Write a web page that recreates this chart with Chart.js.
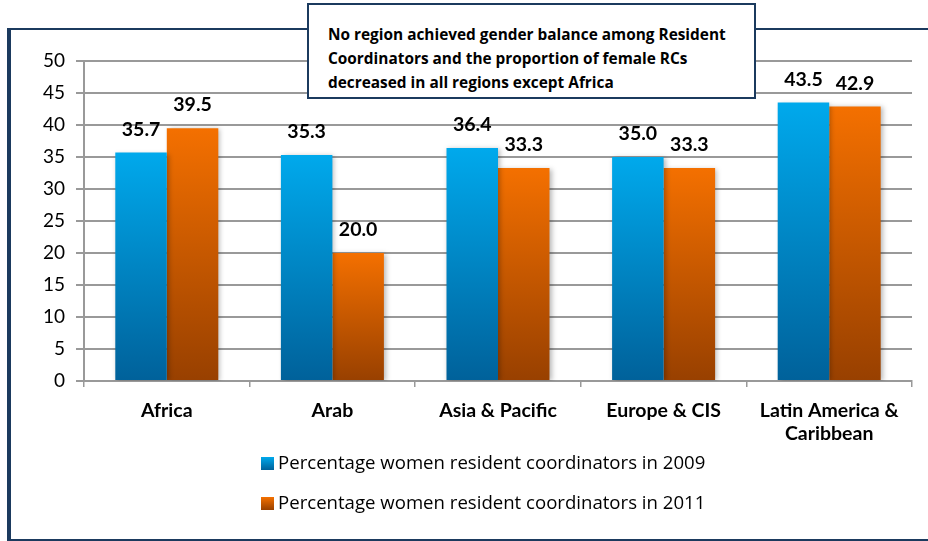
<!DOCTYPE html>
<html>
<head>
<meta charset="utf-8">
<script src="https://cdn.jsdelivr.net/npm/chart.js@4.4.0/dist/chart.umd.min.js"></script>
<style>
body { margin: 0; background: #fff; }
#wrap { position: relative; width: 928px; height: 541px; overflow: hidden; }
#frame { position: absolute; left: 7px; top: 28px; width: 960px; height: 509px;
  border-left: 4px solid #1b3a5e; border-top: 2px solid #1b3a5e; border-bottom: 2px solid #1b3a5e; }
#myChart { position: absolute; left: 0; top: 0; }
#note { position: absolute; left: 307px; top: 3px; width: 449px; height: 96px; box-sizing: border-box;
  border: 2px solid #1b3a5e; background: #fff; padding: 18px 0 0 19px; white-space: nowrap;
  font: bold 15.4px "Open Sans", sans-serif; line-height: 24px; color: #000; }
</style>
</head>
<body>
<div id="wrap">
  <div id="frame"></div>
  <canvas id="myChart" width="928" height="541"></canvas>
  <div id="note">No region achieved gender balance among Resident<br>Coordinators and the proportion of female RCs<br>decreased in all regions except Africa</div>
</div>
<script>
// chart data
var regions = ['Africa', 'Arab', 'Asia & Pacific', 'Europe & CIS', ['Latin America &', 'Caribbean']];
var women2009 = [35.7, 35.3, 36.4, 35.0, 43.5];
var women2011 = [39.5, 20.0, 33.3, 33.3, 42.9];
var seriesNames = ['Percentage women resident coordinators in 2009', 'Percentage women resident coordinators in 2011'];
var yMin = 0, yMax = 50, yStep = 5;

var blueTop = '#00a9ec', blueBottom = '#00619a';
var orangeTop = '#f47000', orangeBottom = '#984000';

// gradient from top of each bar down to zero
var barGradient = function (top, bottom) {
    return function (c) {
        var chart = c.chart;
        var ys = chart.scales.y;
        if (!ys || c.type !== 'data') return top;
        var y0 = ys.getPixelForValue(0);
        var y1 = ys.getPixelForValue(c.raw);
        if (!isFinite(y0) || !isFinite(y1)) return top;
        var g = chart.ctx.createLinearGradient(0, y1, 0, y0);
        g.addColorStop(0, top);
        g.addColorStop(1, bottom);
        return g;
    };
};

var shadowPlugin = {
    id: 'barShadow',
    beforeDatasetsDraw: function (chart) {
        var ctx = chart.ctx;
        ctx.save();
        ctx.shadowColor = 'rgba(0,0,0,0.28)';
        ctx.shadowBlur = 5;
        ctx.shadowOffsetX = 2;
        ctx.shadowOffsetY = 1;
    },
    afterDatasetsDraw: function (chart) {
        chart.ctx.restore();
        // value labels above bars
        var ctx = chart.ctx;
        ctx.save();
        ctx.font = 'bold 19.5px Lato, sans-serif';
        ctx.fillStyle = '#000';
        ctx.textAlign = 'center';
        ctx.textBaseline = 'middle';
        chart.data.datasets.forEach(function (ds, i) {
            chart.getDatasetMeta(i).data.forEach(function (bar, j) {
                ctx.fillText(ds.data[j].toFixed(1), bar.x, bar.y - 23);
            });
        });
        ctx.restore();
    }
};

var legendPlugin = {
    id: 'stackedLegend',
    afterDraw: function (chart) {
        var ctx = chart.ctx;
        var rows = [[blueTop, blueBottom, 463], [orangeTop, orangeBottom, 503]];
        ctx.save();
        ctx.font = '18.6px "Open Sans", sans-serif';
        ctx.textBaseline = 'middle';
        rows.forEach(function (r, i) {
            var g = ctx.createLinearGradient(0, r[2] - 6, 0, r[2] + 7);
            g.addColorStop(0, r[0]);
            g.addColorStop(1, r[1]);
            ctx.fillStyle = g;
            ctx.fillRect(261, r[2] - 6, 13, 13);
            ctx.fillStyle = '#000';
            ctx.fillText(seriesNames[i], 278, r[2] + 1);
        });
        ctx.restore();
    }
};

var ctx = document.getElementById('myChart');
var chart = new Chart(ctx, {
    type: 'bar',
    data: {
        labels: regions,
        datasets: [
            { label: seriesNames[0], data: women2009, backgroundColor: barGradient(blueTop, blueBottom),
              categoryPercentage: 0.622, barPercentage: 1 },
            { label: seriesNames[1], data: women2011, backgroundColor: barGradient(orangeTop, orangeBottom),
              categoryPercentage: 0.622, barPercentage: 1 }
        ]
    },
    options: {
        responsive: false,
        animation: false,
        layout: { padding: { top: 61, right: 16, left: 0, bottom: 0 } },
        plugins: {
            legend: { display: false },
            tooltip: { enabled: false }
        },
        scales: {
            x: {
                grid: { offset: true, drawOnChartArea: false, drawTicks: true, tickLength: 6, color: '#999', lineWidth: 1.5 },
                border: { display: true, color: '#999', width: 2 },
                ticks: { font: { family: 'Lato', size: 19.5, weight: 'bold', lineHeight: 1.18 }, color: '#000',
                         padding: 12, maxRotation: 0, autoSkip: false },
                afterFit: function (s) { s.height = 160; }
            },
            y: {
                min: yMin, max: yMax,
                ticks: { stepSize: yStep, font: { family: 'Lato', size: 19 }, color: '#000', padding: 11 },
                grid: { color: '#999', lineWidth: 2, tickLength: 8 },
                border: { display: true, color: '#999', width: 2 },
                afterFit: function (s) { s.width = 84; }
            }
        }
    },
    plugins: [shadowPlugin, legendPlugin]
});
</script>
</body>
</html>
